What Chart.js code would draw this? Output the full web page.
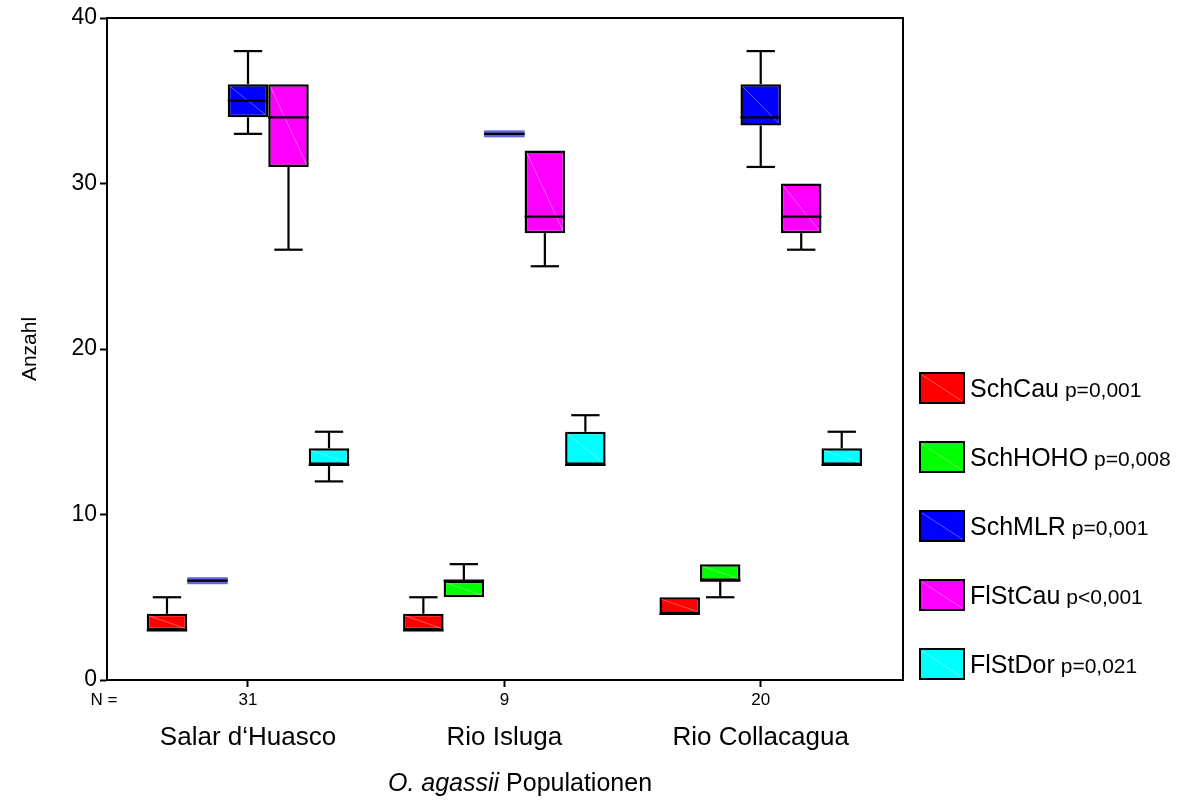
<!DOCTYPE html>
<html><head><meta charset="utf-8">
<script src="https://cdn.jsdelivr.net/npm/chart.js@4.4.1/dist/chart.umd.min.js"></script>
<style>html,body{margin:0;padding:0;background:#fff;}#wrap{width:1180px;height:807px;}</style>
</head><body><div id="wrap"><canvas id="c" width="1180" height="807"></canvas></div>
<script>
// ---- data ----
const categories = ["Salar d\u2018Huasco", "Rio Isluga", "Rio Collacagua"];
const nValues = ["31", "9", "20"];
const seriesNames = ["SchCau", "SchHOHO", "SchMLR", "FlStCau", "FlStDor"];
const pValues = ["p=0,001", "p=0,008", "p=0,001", "p<0,001", "p=0,021"];
const seriesColors = ["#ff0000", "#00ff00", "#0000ff", "#ff00ff", "#00ffff"];
const yTicks = [0, 10, 20, 30, 40];

const schCauMin = [3, 3, 4], schCauQ1 = [3, 3, 4], schCauMed = [3, 3, 4], schCauQ3 = [4, 4, 5], schCauMax = [5, 5, 5];
const schHohoMin = [6, 5, 5], schHohoQ1 = [6, 5, 6], schHohoMed = [6, 6, 6], schHohoQ3 = [6, 6, 7], schHohoMax = [6, 7, 7];
const schMlrMin = [33, 33, 31], schMlrQ1 = [34, 33, 33.5], schMlrMed = [35, 33, 34], schMlrQ3 = [36, 33, 36], schMlrMax = [38, 33, 38];
const flStCauMin = [26, 25, 26], flStCauQ1 = [31, 27, 27], flStCauMed = [34, 28, 28], flStCauQ3 = [36, 32, 30], flStCauMax = [36, 32, 30];
const flStDorMin = [12, 13, 13], flStDorQ1 = [13, 13, 13], flStDorMed = [13, 13, 13], flStDorQ3 = [14, 15, 14], flStDorMax = [15, 16, 15];

const stats = [
  {min: schCauMin, q1: schCauQ1, med: schCauMed, q3: schCauQ3, max: schCauMax},
  {min: schHohoMin, q1: schHohoQ1, med: schHohoMed, q3: schHohoQ3, max: schHohoMax},
  {min: schMlrMin, q1: schMlrQ1, med: schMlrMed, q3: schMlrQ3, max: schMlrMax},
  {min: flStCauMin, q1: flStCauQ1, med: flStCauMed, q3: flStCauQ3, max: flStCauMax},
  {min: flStDorMin, q1: flStDorQ1, med: flStDorMed, q3: flStDorQ3, max: flStDorMax}
];

const FONT = "'Liberation Sans', Arial, sans-serif";

const datasets = seriesNames.map((name, i) => ({
  label: name,
  data: categories.map((c, j) => ({x: j, y: [stats[i].q1[j], stats[i].q3[j]]})),
  backgroundColor: seriesColors[i],
  borderColor: '#000',
  borderWidth: 2.5,
  borderSkipped: false,
  xAxisID: 'x',
  yAxisID: 'y'
}));

function diag(ctx, l, t, r, b) {
  ctx.save();
  ctx.strokeStyle = 'rgba(255,255,255,0.35)';
  ctx.lineWidth = 1;
  ctx.beginPath(); ctx.moveTo(l + 2, t + 2); ctx.lineTo(r - 2, b - 2); ctx.stroke();
  ctx.restore();
}

const boxPlugin = {
  id: 'boxplot',
  beforeDatasetsDraw(chart) {
    const ctx = chart.ctx, ys = chart.scales.y;
    ctx.save();
    ctx.strokeStyle = '#000'; ctx.lineWidth = 2.2;
    stats.forEach((s, i) => {
      chart.getDatasetMeta(i).data.forEach((el, j) => {
        const cx = el.x, cap = el.width * 0.7;
        const pairs = [[s.q3[j], s.max[j]], [s.q1[j], s.min[j]]];
        pairs.forEach(([a, b]) => {
          if (a === b) return;
          const pa = ys.getPixelForValue(a), pb = ys.getPixelForValue(b);
          ctx.beginPath(); ctx.moveTo(cx, pa); ctx.lineTo(cx, pb); ctx.stroke();
          ctx.beginPath(); ctx.moveTo(cx - cap / 2, pb); ctx.lineTo(cx + cap / 2, pb); ctx.stroke();
        });
      });
    });
    ctx.restore();
  },
  afterDatasetsDraw(chart) {
    const ctx = chart.ctx, ys = chart.scales.y, a = chart.chartArea;
    ctx.save();
    stats.forEach((s, i) => {
      chart.getDatasetMeta(i).data.forEach((el, j) => {
        const l = el.x - el.width / 2, r = el.x + el.width / 2;
        const top = ys.getPixelForValue(s.q3[j]), bot = ys.getPixelForValue(s.q1[j]);
        if (s.q1[j] === s.q3[j]) {
          ctx.fillStyle = 'rgba(60,60,220,0.8)';
          ctx.fillRect(l, top - 3.5, r - l, 7);
        } else {
          diag(ctx, l, top, r, bot);
        }
        const pm = ys.getPixelForValue(s.med[j]);
        ctx.strokeStyle = '#000'; ctx.lineWidth = 2.2;
        ctx.beginPath(); ctx.moveTo(l, pm); ctx.lineTo(r, pm); ctx.stroke();
      });
    });
    // frame top and right
    ctx.strokeStyle = '#000'; ctx.lineWidth = 2;
    ctx.beginPath();
    ctx.moveTo(a.left, a.top); ctx.lineTo(a.right, a.top); ctx.lineTo(a.right, a.bottom);
    ctx.stroke();
    ctx.restore();
  },
  afterDraw(chart) {
    const ctx = chart.ctx, xs = chart.scales.x;
    ctx.save();
    // legend
    const lx = 920, ly0 = 373, bw = 44, bh = 30, step = 69;
    seriesNames.forEach((name, i) => {
      const y = ly0 + i * step;
      ctx.fillStyle = seriesColors[i];
      ctx.fillRect(lx, y, bw, bh);
      diag(ctx, lx, y, lx + bw, y + bh);
      ctx.strokeStyle = '#000'; ctx.lineWidth = 2;
      ctx.strokeRect(lx, y, bw, bh);
      ctx.fillStyle = '#000';
      ctx.textBaseline = 'alphabetic'; ctx.textAlign = 'left';
      ctx.font = '25px ' + FONT;
      const base = y + bh / 2 + 9;
      ctx.fillText(name, lx + bw + 6, base);
      const w = ctx.measureText(name).width;
      ctx.font = '21px ' + FONT;
      ctx.fillText(pValues[i], lx + bw + 6 + w + 6, base);
    });
    // N =
    ctx.font = '17px ' + FONT;
    ctx.textAlign = 'center'; ctx.textBaseline = 'middle';
    ctx.fillText('N =', 104, xs.top + 7 + 3 + 10);
    // x title
    const y = 784;
    const p1 = 'O. agassii', p2 = ' Populationen';
    ctx.font = 'italic 25px ' + FONT;
    const w1 = ctx.measureText(p1).width;
    ctx.font = '25px ' + FONT;
    const w2 = ctx.measureText(p2).width;
    const x0 = 520 - (w1 + w2) / 2;
    ctx.textAlign = 'left';
    ctx.font = 'italic 25px ' + FONT;
    ctx.fillText(p1, x0, y);
    ctx.font = '25px ' + FONT;
    ctx.fillText(p2, x0 + w1, y);
    ctx.restore();
  }
};

const intTicks = s => { s.ticks = s.ticks.filter(t => Number.isInteger(t.value) && t.value >= 0 && t.value < categories.length); };

new Chart(document.getElementById('c'), {
  type: 'bar',
  data: {datasets},
  options: {
    responsive: false, animation: false, devicePixelRatio: 1,
    layout: {padding: {left: 0, right: 277, top: 18, bottom: 57}},
    datasets: {bar: {categoryPercentage: 0.79, barPercentage: 1}},
    plugins: {legend: {display: false}, tooltip: {enabled: false}},
    scales: {
      x: {
        type: 'linear', min: -0.55, max: 2.555, weight: 0, offset: false,
        grid: {display: true, drawOnChartArea: false, drawTicks: true, tickLength: 7, offset: false, color: '#000', tickColor: '#000', tickWidth: 2},
        border: {display: true, color: '#000', width: 2},
        ticks: {stepSize: 1, autoSkip: false, maxRotation: 0, padding: 3, color: '#000', font: {family: FONT, size: 17}, callback: v => nValues[v]},
        afterBuildTicks: intTicks,
        afterFit: s => { s.height = 30; }
      },
      x2: {
        type: 'linear', position: 'bottom', min: -0.55, max: 2.555, weight: 1, offset: false,
        grid: {display: false}, border: {display: false},
        ticks: {stepSize: 1, autoSkip: false, maxRotation: 0, padding: 4, color: '#000', font: {family: FONT, size: 26}, callback: v => categories[v]},
        afterBuildTicks: intTicks,
        afterFit: s => { s.height = 40; }
      },
      y: {
        min: 0, max: 40,
        grid: {display: true, drawOnChartArea: false, drawTicks: true, tickLength: 7, color: '#000', tickColor: '#000', tickWidth: 2},
        border: {display: true, color: '#000', width: 2},
        ticks: {stepSize: 10, padding: 3, color: '#000', font: {family: FONT, size: 23}},
        afterBuildTicks: s => { s.ticks = yTicks.map(v => ({value: v})); },
        title: {display: true, text: 'Anzahl', color: '#000', font: {family: FONT, size: 21}, padding: {top: 18, bottom: 0}},
        afterFit: s => { s.width = 107; }
      }
    }
  },
  plugins: [boxPlugin]
});
</script>
</body></html>
